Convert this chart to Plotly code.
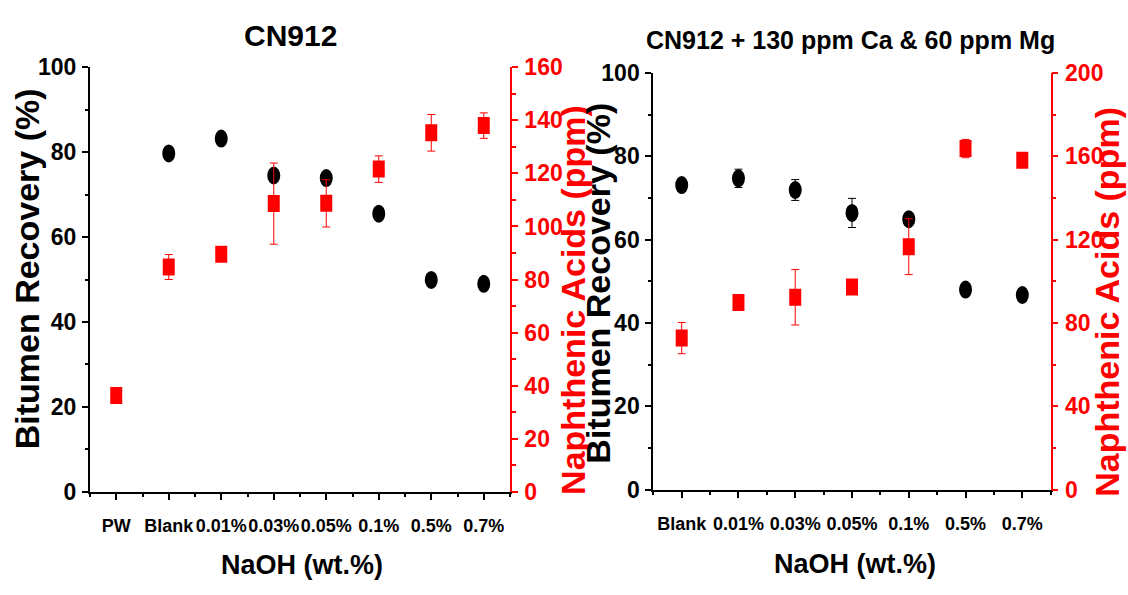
import plotly.graph_objects as go

# ---- data: panel A (CN912) ----
cats_a = ["PW", "Blank", "0.01%", "0.03%", "0.05%", "0.1%", "0.5%", "0.7%"]
recovery_a = [None, 79.7, 83.2, 74.5, 73.9, 65.5, 49.9, 49.0]
na_a = [36.3, 84.7, 89.5, 108.6, 108.7, 121.6, 135.3, 138.0]
na_a_err = [0, 4.7, 0, 15.3, 8.9, 5.0, 6.9, 4.8]

# ---- data: panel B (CN912 + 130 ppm Ca & 60 ppm Mg) ----
cats_b = ["Blank", "0.01%", "0.03%", "0.05%", "0.1%", "0.5%", "0.7%"]
recovery_b = [73.1, 74.7, 71.9, 66.4, 64.9, 48.0, 46.7]
recovery_b_err = [0, 2.2, 2.5, 3.5, 0.8, 0, 0]
na_b = [72.7, 89.8, 92.3, 97.2, 116.6, 163.7, 158.1]
na_b_err = [7.5, 0, 13.3, 0, 13.4, 4.4, 0]

titles = ["CN912", "CN912 + 130 ppm Ca & 60 ppm Mg"]
xtitle = "NaOH (wt.%)"
ytitle_left = "Bitumen Recovery (%)"
ytitle_right = "Naphthenic Acids (ppm)"

W, H = 1128, 595
FONT = "Liberation Sans, Arial, sans-serif"
RED = "#ff0000"


def px(x):
    return x / W


def py(y):
    return 1 - y / H


fig = go.Figure()
shapes = []


def ellipse(xv, yv, xref, yref, color, w=13, h=18, layer="below"):
    return dict(type="circle", xref=xref, yref=yref,
                xsizemode="pixel", ysizemode="pixel",
                xanchor=xv, yanchor=yv, x0=-w / 2, x1=w / 2,
                y0=-h / 2, y1=h / 2, fillcolor=color,
                line=dict(width=0), layer=layer)


def rect(xv, yv, xref, yref, color, w=12, h=17, layer="above"):
    return dict(type="rect", xref=xref, yref=yref,
                xsizemode="pixel", ysizemode="pixel",
                xanchor=xv, yanchor=yv, x0=-w / 2, x1=w / 2,
                y0=-h / 2, y1=h / 2, fillcolor=color,
                line=dict(width=0), layer=layer)


def add_panel(cats, rec, rec_err, na, na_err, xref, yref, yref2):
    xs = list(range(len(cats)))
    # error bars (markers drawn as pixel-sized shapes)
    fig.add_trace(go.Scatter(
        x=xs, y=rec, mode="markers", xaxis=xref, yaxis=yref,
        marker=dict(size=1, color="rgba(0,0,0,0)"),
        error_y=dict(type="data", array=rec_err, color="black",
                     thickness=1, width=4),
        showlegend=False, hoverinfo="skip"))
    fig.add_trace(go.Scatter(
        x=xs, y=na, mode="markers", xaxis=xref, yaxis=yref2,
        marker=dict(size=1, color="rgba(0,0,0,0)"),
        error_y=dict(type="data", array=na_err, color=RED,
                     thickness=1, width=4),
        showlegend=False, hoverinfo="skip"))
    for xv, v in zip(xs, rec):
        if v is not None:
            shapes.append(ellipse(xv, v, xref, yref, "black"))
    for xv, v in zip(xs, na):
        if v is not None:
            shapes.append(rect(xv, v, xref, yref2, RED))


add_panel(cats_a, recovery_a, [0] * len(cats_a), na_a, na_a_err,
          "x", "y", "y2")
add_panel(cats_b, recovery_b, recovery_b_err, na_b, na_b_err,
          "x3", "y3", "y4")

tickfont_x = dict(family=FONT, size=18, color="black", weight="bold")
tickfont_y = dict(family=FONT, size=23, color="black", weight="bold")
tickfont_r = dict(family=FONT, size=23, color=RED, weight="bold")


def bottom_axis(cats, domain, anchor):
    n = len(cats)
    half = [i - 0.5 for i in range(n + 1)]
    return dict(domain=domain, anchor=anchor, range=[-0.5, n - 0.5],
                tickmode="array", tickvals=list(range(n)), ticktext=cats,
                tickangle=0,
                ticks="outside", ticklen=6, tickwidth=1.5, tickcolor="black",
                minor=dict(tickmode="array", tickvals=half, ticks="outside",
                           ticklen=3, tickwidth=1.5, tickcolor="black"),
                showline=True, linecolor="black", linewidth=2,
                showgrid=False, zeroline=False, tickfont=tickfont_x,
                ticklabelstandoff=11, fixedrange=True)


def top_axis(n, overlay, anchor):
    half = [i - 0.5 for i in range(n + 1)]
    return dict(overlaying=overlay, anchor=anchor, side="top",
                range=[-0.5, n - 0.5], tickmode="array",
                tickvals=list(range(n)), showticklabels=False,
                ticks="inside", ticklen=7, tickwidth=1.5, tickcolor="black",
                minor=dict(tickmode="array", tickvals=half, ticks="inside",
                           ticklen=4, tickwidth=1.5, tickcolor="black"),
                showline=True, linecolor="black", linewidth=2,
                showgrid=False, zeroline=False, fixedrange=True)


def left_axis(domain, anchor):
    return dict(domain=domain, anchor=anchor, range=[0, 100],
                tickmode="linear", tick0=0, dtick=20,
                ticks="outside", ticklen=6, tickwidth=1.5, tickcolor="black",
                minor=dict(dtick=10, ticks="outside", ticklen=3,
                           tickwidth=1.5, tickcolor="black"),
                showline=True, linecolor="black", linewidth=2,
                showgrid=False, zeroline=False, tickfont=tickfont_y,
                ticklabelstandoff=1, fixedrange=True)


def right_axis(overlay, anchor, top, major, minor):
    return dict(overlaying=overlay, anchor=anchor, side="right",
                range=[0, top], tickmode="linear", tick0=0, dtick=major,
                ticks="outside", ticklen=6, tickwidth=1.5, tickcolor=RED,
                minor=dict(dtick=minor, ticks="outside", ticklen=4,
                           tickwidth=1.5, tickcolor=RED),
                showline=True, linecolor=RED, linewidth=1.5,
                showgrid=False, zeroline=False, tickfont=tickfont_r,
                ticklabelstandoff=2, fixedrange=True)


dom_xa = [px(90), px(510)]
dom_ya = [py(500.7), py(56.7)]
dom_xb = [px(653.3), px(1050.7)]
dom_yb = [py(498.3), py(62.7)]

annotations = []


def text(x, y, s, size, color="black", angle=0):
    annotations.append(dict(
        x=px(x), y=py(y), xref="paper", yref="paper", text=s,
        showarrow=False, textangle=angle, xanchor="center", yanchor="middle",
        font=dict(family=FONT, size=size, color=color, weight="bold")))


text(290, 24, titles[0], 30)
text(850, 28, titles[1], 25)
text(302, 577, xtitle, 27)
text(855, 576, xtitle, 27)
text(27, 268, ytitle_left, 34, angle=-90)
text(573, 300, ytitle_right, 34, color=RED, angle=-90)
text(598, 283, ytitle_left, 34, angle=-90)
text(1107, 302, ytitle_right, 34, color=RED, angle=-90)

fig.update_layout(
    width=W, height=H, margin=dict(l=0, r=0, t=0, b=0),
    paper_bgcolor="white", plot_bgcolor="white", showlegend=False,
    xaxis=bottom_axis(cats_a, dom_xa, "y"),
    xaxis2=top_axis(len(cats_a), "x", "y"),
    yaxis=left_axis(dom_ya, "x"),
    yaxis2=right_axis("y", "x", 160, 20, 10),
    xaxis3=bottom_axis(cats_b, dom_xb, "y3"),
    xaxis4=top_axis(len(cats_b), "x3", "y3"),
    yaxis3=left_axis(dom_yb, "x3"),
    yaxis4=right_axis("y3", "x3", 200, 40, 20),
    shapes=shapes, annotations=annotations,
)

fig.write_html("out.html")
